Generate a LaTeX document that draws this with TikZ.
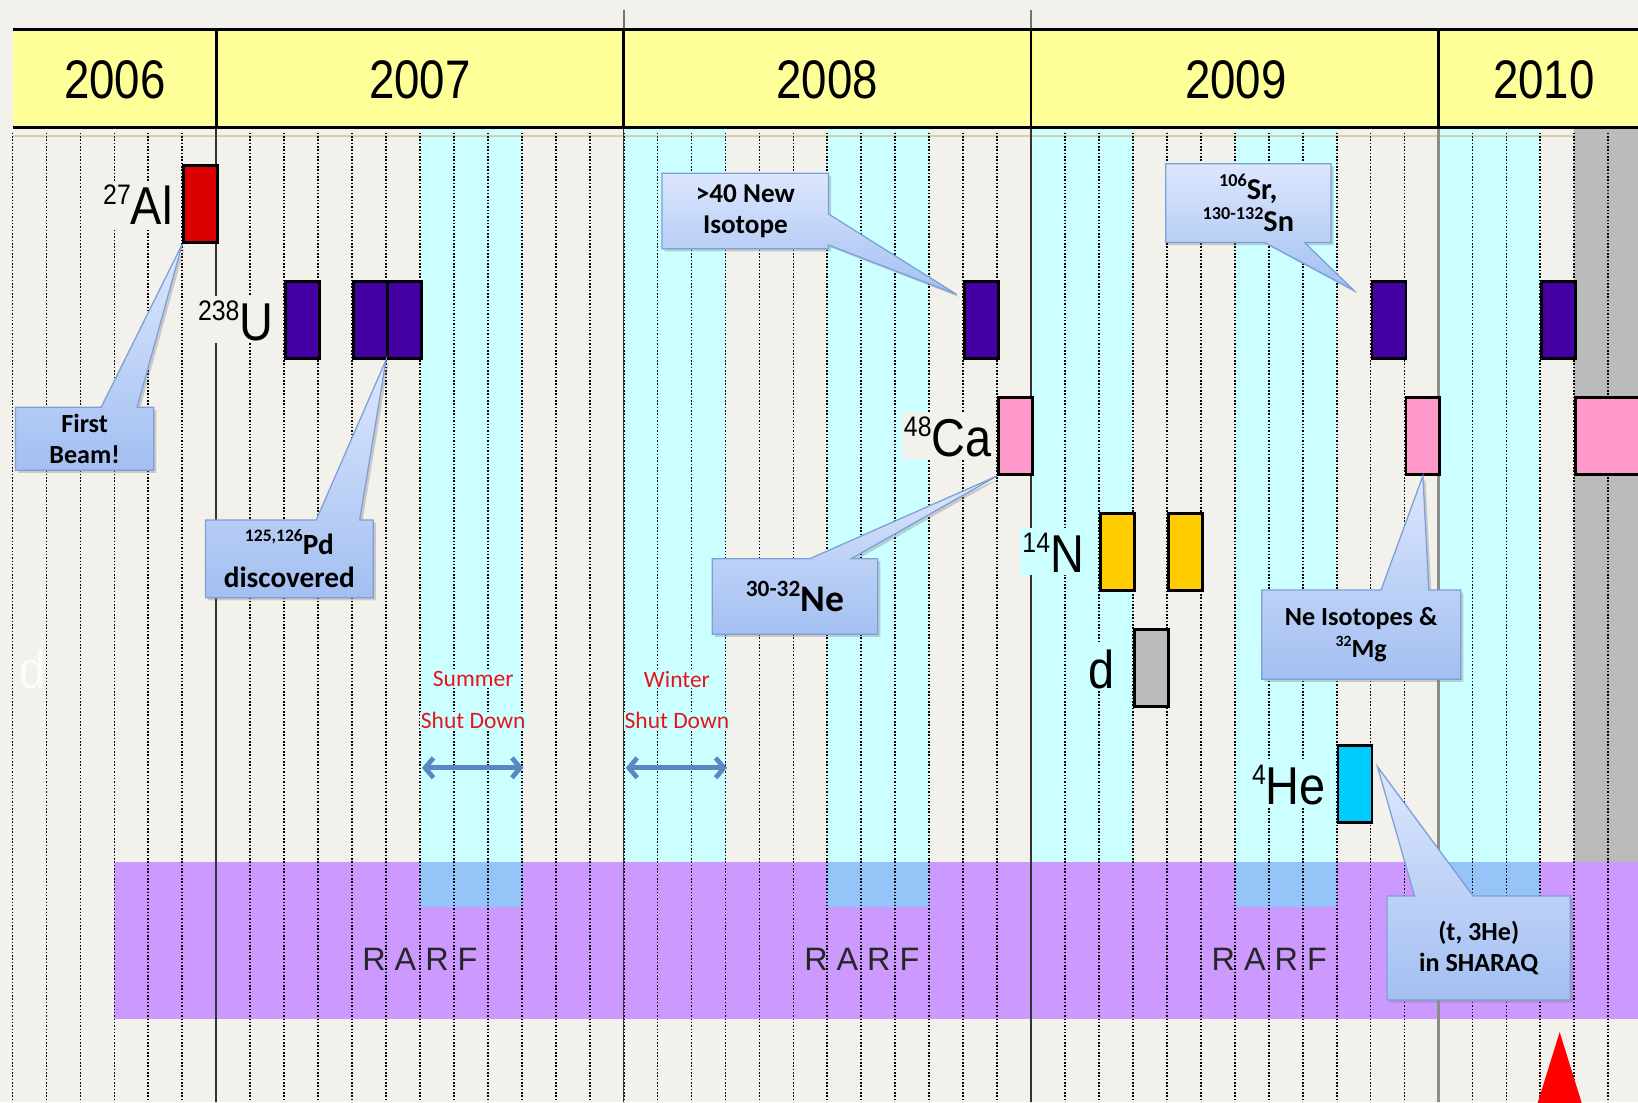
\documentclass[tikz,border=0pt]{standalone}
\usepackage{fontspec}
\setmainfont{Liberation Sans}
\newfontfamily\callfont{Carlito}
\usetikzlibrary{positioning,calc,shadows,arrows.meta}

\definecolor{paper}{HTML}{F2F1EB}
\definecolor{hdryellow}{HTML}{FFFF99}
\definecolor{shutcyan}{HTML}{CCFFFF}
\definecolor{shutblue}{HTML}{94C4F8}
\definecolor{rarfpurple}{HTML}{CC99FF}
\definecolor{offgrey}{HTML}{BBBBBB}
\definecolor{alred}{HTML}{DD0000}
\definecolor{upurple}{HTML}{4400A2}
\definecolor{capink}{HTML}{FF99CC}
\definecolor{nyellow}{HTML}{FFCC00}
\definecolor{hecyan}{HTML}{00CCFF}
\definecolor{calltop}{HTML}{DCE7FD}
\definecolor{callbot}{HTML}{A3BFF1}
\definecolor{callline}{HTML}{7C9FD8}
\definecolor{shutred}{HTML}{E8141A}
\definecolor{arrowblue}{HTML}{5A86C2}
\definecolor{tanline}{HTML}{D6CFAE}

\pgfdeclarelayer{front}
\pgfsetlayers{main,front}

\newcommand\isotop[2]{\scalebox{0.88}[1]{\raisebox{19pt}{\fontsize{27}{27}\selectfont #1}#2}}
\newcommand\up[1]{\raisebox{0.42em}{\scalebox{0.6}{#1}}}

\tikzset{every picture/.style={line width=0.75pt}}
\tikzset{
  beam/.style={draw=black, line width=2.6pt, minimum width=32.5pt, minimum height=74pt, inner sep=0pt, anchor=north west},
  nuclide/.style={font=\fontsize{51}{51}\selectfont, inner sep=2pt, text height=40pt, text depth=1pt},
  callout/.style={draw=callline, line width=1.2pt, top color=calltop, bottom color=callbot,
                  drop shadow={shadow xshift=2.5pt, shadow yshift=-2.5pt, opacity=0.35}},
  calltext/.style={font=\callfont\bfseries\fontsize{25}{30}\selectfont, align=center, inner sep=0pt},
  month/.style={line width=1.7pt, dash pattern=on 1.5pt off 1.7pt, black},
  shuttext/.style={font=\callfont\fontsize{22.5}{22.5}\selectfont, text=shutred, fill=shutcyan, inner sep=1pt},
  shutarrow/.style={arrowblue, line width=4.5pt, {Straight Barb[length=8pt,width=19pt]}-{Straight Barb[length=8pt,width=19pt]}},
}

\begin{document}
\begin{tikzpicture}[x=1pt,y=1pt,yscale=-1]
\useasboundingbox (0,0) rectangle (1568,1055);
\fill[paper] (0,0) rectangle (1568,1055);

% shut down periods
\foreach \k in {12,18,24,30,36,42}
  \fill[shutcyan] ({12+32.5*\k},122) rectangle ({12+32.5*(\k+3)},825);
\fill[offgrey] (1507,122) rectangle (1575,825);

% RARF band
\fill[rarfpurple] (109.5,825) rectangle (1575,975);
\foreach \k in {12,24,36,42}
  \fill[shutblue] ({12+32.5*\k},825) rectangle ({12+32.5*(\k+3)},868);
\draw[tanline, line width=2pt] (12,130) -- (1507,130);

% months
\foreach \k in {0,...,47}
  \draw[month] ({12+32.5*\k},127) -- ({12+32.5*\k},1055);

% year lines
\foreach \k in {6,18,30}
  \draw[black!80, line width=1.6pt] ({12+32.5*\k},122) -- ({12+32.5*\k},1055);
\draw[black!45, line width=2.5pt] (1377,122) -- (1377,1055);
\draw[black!55, line width=2pt] (597,10) -- (597,28) (987,10) -- (987,28);

% header
\fill[hdryellow] (12,28) rectangle (1575,122);
\draw[line width=3pt] (12,28) -- (1575,28) (12,122) -- (1575,122);
\foreach \k in {6,18,30,42}
  \draw[line width=2.5pt] ({12+32.5*\k},28) -- ({12+32.5*\k},122);
\foreach \yr/\xc in {2006/110,2007/402,2008/792,2009/1183,2010/1478}
  \node[font=\fontsize{52}{52}\selectfont] (y\yr) at (\xc,76) {\scalebox{0.84}[1]{\yr}};

% beams
\node[beam, fill=alred] (al) at (174.5,157) {};
\node[beam, fill=upurple] (u1) at (272,268) {};
\node[beam, fill=upurple] (u2) at (337,268) {};
\node[beam, fill=upurple] (u3) at (369.5,268) {};
\node[beam, fill=upurple] (p08) at (922,268) {};
\node[beam, fill=capink] (ca) at (954.5,379) {};
\node[beam, fill=nyellow] (n1) at (1052,490) {};
\node[beam, fill=nyellow] (n2) at (1117,490) {};
\node[beam, fill=offgrey] (dd) at (1084.5,601) {};
\node[beam, fill=hecyan] (he) at (1279.5,712) {};
\node[beam, fill=upurple] (p09) at (1312,268) {};
\node[beam, fill=capink] (pk09) at (1344.5,379) {};
\node[beam, fill=upurple] (p10) at (1474.5,268) {};
\node[beam, fill=capink, minimum width=75pt] (pk10) at (1507,379) {};

% nuclide labels
\node[nuclide, fill=paper, left=7pt of al] (allab) {\isotop{27}{Al}};
\node[nuclide, fill=paper, left=8pt of u1] (ulab) {\isotop{238}{U}};
\node[nuclide, fill=paper, left=3pt of ca] (calab) {\isotop{48}{Ca}};
\node[nuclide, fill=shutcyan, left=12pt of n1] (nlab) {\isotop{14}{N}};
\node[nuclide, fill=shutcyan, left=15pt of dd] (dlab) {\scalebox{0.88}[1]{d}};
\node[nuclide, fill=shutcyan, left=8pt of he] (helab) {\isotop{4}{He}};
\node[nuclide, text=white, opacity=0.85] (ghost) at (31,640) {\scalebox{0.88}[1]{d}};

% shut downs
\node[shuttext] (sum1) at (453,650) {Summer};
\node[shuttext] (sum2) at (453,690) {Shut Down};
\node[shuttext] (win1) at (648,650) {Winter};
\node[shuttext] (win2) at (648,690) {Shut Down};
\coordinate (sumL) at (404,735);
\coordinate (sumR) at (501,735);
\coordinate (winL) at (599,735);
\coordinate (winR) at (696,735);
\draw[shutarrow] (sumL) -- (sumR);
\draw[shutarrow] (winL) -- (winR);

% RARF
\foreach \xc [count=\i] in {402,825,1215}
  \node[font=\fontsize{31}{31}\selectfont, text=black!85] (rarf\i) at (\xc,918) {R A R F};

% callouts
\begin{pgfonlayer}{front}
\node[calltext, minimum width=132pt, minimum height=60pt] (fb) at (81,420) {First\\Beam!};
\node[calltext, font=\callfont\bfseries\fontsize{28}{32}\selectfont, minimum width=160pt, minimum height=74pt] (pd) at (277,535) {\up{125,126}Pd\\discovered};
\node[calltext, font=\callfont\bfseries\fontsize{26}{30}\selectfont, minimum width=159pt, minimum height=72pt] (ni) at (713.5,202) {>40 New\\Isotope};
\node[calltext, font=\callfont\bfseries\fontsize{36}{36}\selectfont, minimum width=158pt, minimum height=72pt] (ne) at (761,571) {\raisebox{0.4em}{\scalebox{0.62}{30-32}}Ne};
\node[calltext, font=\callfont\bfseries\fontsize{29}{31}\selectfont, minimum width=158pt, minimum height=75pt] (sn) at (1195,194.5) {\up{106}Sr,\\\up{130-132}Sn};
\node[calltext, minimum width=190pt, minimum height=85pt, font=\callfont\bfseries\fontsize{25}{31}\selectfont] (mg) at (1303,607.5) {Ne Isotopes \&\\\up{32}Mg};
\node[calltext, minimum width=175pt, minimum height=99pt] (sh) at (1415.5,907.5) {(t, 3He)\\in SHARAQ};
\end{pgfonlayer}

\path[callout] (fb.north west) -- ($(fb.north west)!0.62!(fb.north east)$) -- (al.south west)
  -- ($(fb.north west)!0.88!(fb.north east)$) -- (fb.north east) -- (fb.south east) -- (fb.south west) -- cycle;
\path[callout] (pd.north west) -- ($(pd.north west)!0.66!(pd.north east)$) -- (u3.south west)
  -- ($(pd.north west)!0.92!(pd.north east)$) -- (pd.north east) -- (pd.south east) -- (pd.south west) -- cycle;
\path[callout] (ni.north west) -- (ni.north east) -- ($(ni.north east)!0.54!(ni.south east)$)
  -- ($(p08.north west)+(-6,14)$) -- ($(ni.north east)!0.95!(ni.south east)$) -- (ni.south east) -- (ni.south west) -- cycle;
\path[callout] (ne.north west) -- ($(ne.north west)!0.59!(ne.north east)$) -- (ca.south west)
  -- ($(ne.north west)!0.84!(ne.north east)$) -- (ne.north east) -- (ne.south east) -- (ne.south west) -- cycle;
\path[callout] (sn.north west) -- (sn.north east) -- (sn.south east) -- ($(sn.south west)!0.84!(sn.south east)$)
  -- ($(p09.north west)+(-16,10)$) -- ($(sn.south west)!0.6!(sn.south east)$) -- (sn.south west) -- cycle;
\path[callout] (mg.north west) -- ($(mg.north west)!0.6!(mg.north east)$) -- (pk09.south)
  -- ($(mg.north west)!0.84!(mg.north east)$) -- (mg.north east) -- (mg.south east) -- (mg.south west) -- cycle;
\path[callout] (sh.north west) -- ($(sh.north west)!0.15!(sh.north east)$) -- ($(he.north east)+(4,22)$)
  -- ($(sh.north west)!0.47!(sh.north east)$) -- (sh.north east) -- (sh.south east) -- (sh.south west) -- cycle;

% start marker
\fill[red] (1493,988) -- (1470,1062) -- (1516,1062) -- cycle;
\end{tikzpicture}
\end{document}
